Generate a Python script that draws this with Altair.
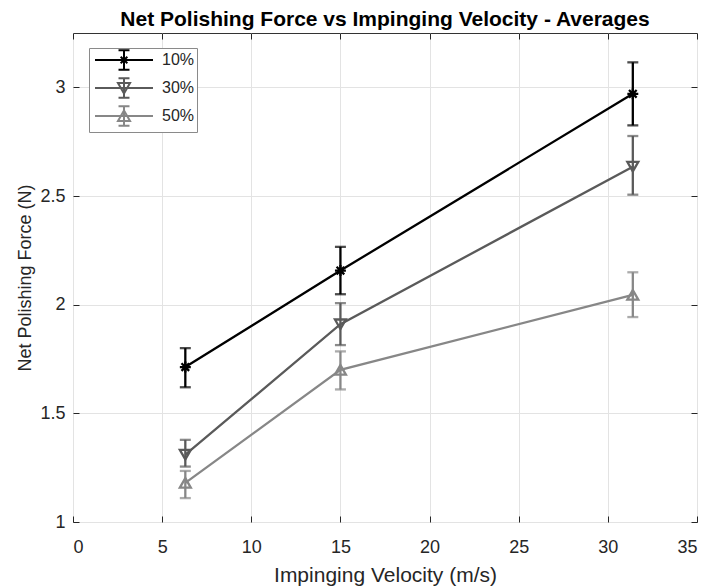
import altair as alt
import pandas as pd

series = ["10%", "30%", "50%"]
velocity = [6.3, 15.0, 31.4]

force_10 = [1.713, 2.157, 2.970]
low_10 = [1.620, 2.048, 2.825]
high_10 = [1.800, 2.266, 3.115]

force_30 = [1.310, 1.910, 2.635]
low_30 = [1.255, 1.814, 2.506]
high_30 = [1.378, 2.007, 2.776]

force_50 = [1.180, 1.700, 2.045]
low_50 = [1.110, 1.610, 1.943]
high_50 = [1.235, 1.785, 2.149]

x_ticks = [0, 5, 10, 15, 20, 25, 30, 35]
y_ticks = [1, 1.5, 2, 2.5, 3]

colors = ["#000000", "#5a5a5a", "#878787"]

# plot markers
marker_paths = [
    "M-1,0L1,0M0,-1L0,1M-0.7,-0.7L0.7,0.7M-0.7,0.7L0.7,-0.7",
    "triangle-down",
    "triangle-up",
]
# legend symbols: line + error bar + marker
_line = "M-3.22,0L3.22,0"
_err = "M-0.61,-1.08L0.61,-1.08M0,-1.08L0,1.08M-0.61,1.08L0.61,1.08"
legend_paths = [
    _line + _err + "M-0.5,0L0.5,0M0,-0.5L0,0.5M-0.37,-0.37L0.37,0.37M-0.37,0.37L0.37,-0.37",
    _line + _err + "M-0.67,-0.55L0.67,-0.55L0,0.61Z",
    _line + _err + "M-0.67,0.55L0.67,0.55L0,-0.61Z",
]

rows = []
for s, fs, ls, hs in zip(series, [force_10, force_30, force_50],
                         [low_10, low_30, low_50], [high_10, high_30, high_50]):
    for v, f, lo, hi in zip(velocity, fs, ls, hs):
        rows.append({"series": s, "v": v, "f": f, "lo": lo, "hi": hi})
df = pd.DataFrame(rows)
caps = df.melt(id_vars=["series", "v"], value_vars=["lo", "hi"],
               var_name="end", value_name="cap")

FONT = "Liberation Sans"
TXT = "#262626"

xs = alt.Scale(domain=[0, 35], nice=False, zero=False)
ys = alt.Scale(domain=[1, 3.25], nice=False, zero=False)
cscale = alt.Scale(domain=series, range=colors)

# main axes: grid, labels, titles
x_main = alt.Axis(values=x_ticks, grid=True, ticks=False, tickSize=0, domain=False,
                  labelFontSize=18, labelColor=TXT, labelFont=FONT, labelPadding=16,
                  title="Impinging Velocity (m/s)", titleFontSize=21, titleFont=FONT,
                  titleColor=TXT, titleFontWeight="normal", titlePadding=8,
                  gridColor="#e3e3e3", gridWidth=1, orient="bottom")
y_main = alt.Axis(values=y_ticks, format="~g", grid=True, ticks=False, tickSize=0,
                  domain=False,
                  labelFontSize=18, labelColor=TXT, labelFont=FONT, labelPadding=8,
                  title="Net Polishing Force (N)", titleFontSize=18, titleFont=FONT,
                  titleColor=TXT, titleFontWeight="normal", titlePadding=5,
                  gridColor="#e3e3e3", gridWidth=1, orient="left")


def tick_axis(vals, orient):
    return alt.Axis(values=vals, grid=False, ticks=True, tickSize=6, tickColor=TXT,
                    tickWidth=1, labels=False, domain=False, title=None,
                    orient=orient, offset=-6)


lines = alt.Chart(df).mark_line(strokeWidth=2.3).encode(
    x=alt.X("v:Q", scale=xs, axis=x_main),
    y=alt.Y("f:Q", scale=ys, axis=y_main),
    color=alt.Color("series:N", scale=cscale, legend=None),
    detail="series:N",
)

rules = alt.Chart(df).mark_rule(strokeWidth=2.3).encode(
    x=alt.X("v:Q", scale=xs, axis=tick_axis(x_ticks, "bottom")),
    y=alt.Y("lo:Q", scale=ys, axis=tick_axis(y_ticks, "left")),
    y2="hi:Q",
    color=alt.Color("series:N", scale=cscale, legend=None),
)

cap_marks = alt.Chart(caps).mark_tick(orient="horizontal", thickness=2.3, size=11).encode(
    x=alt.X("v:Q", scale=xs, axis=tick_axis(x_ticks, "top")),
    y=alt.Y("cap:Q", scale=ys, axis=tick_axis(y_ticks, "right")),
    color=alt.Color("series:N", scale=cscale, legend=None),
)

points = alt.Chart(df).mark_point(filled=False, strokeWidth=2.3, size=120, opacity=1).encode(
    x=alt.X("v:Q", scale=xs, axis=None),
    y=alt.Y("f:Q", scale=ys, axis=None),
    color=alt.Color("series:N", scale=cscale, legend=None),
    shape=alt.Shape("series:N", scale=alt.Scale(domain=series, range=marker_paths), legend=None),
)

legend_label_expr = "datum.label + '\u00a0\u00a0'"

legend_layer = alt.Chart(df).mark_point(filled=False, strokeWidth=2, opacity=0).encode(
    x=alt.X("v:Q", scale=xs, axis=None),
    y=alt.Y("f:Q", scale=ys, axis=None),
    color=alt.Color("series:N", scale=alt.Scale(domain=series, range=colors),
                    legend=alt.Legend(title=None, labelExpr=legend_label_expr)),
    shape=alt.Shape("series:N", scale=alt.Scale(domain=series, range=legend_paths),
                    legend=alt.Legend(title=None, labelExpr=legend_label_expr)),
)

chart = alt.layer(lines, rules, cap_marks, points, legend_layer).resolve_scale(
    color="independent", shape="independent"
).resolve_axis(
    x="independent", y="independent"
).properties(
    width=624, height=489,
    autosize=alt.AutoSizeParams(type="none"),
    padding={"left": 65, "top": 25, "right": 7, "bottom": 66},
    title=alt.Title("Net Polishing Force vs Impinging Velocity - Averages",
                    fontSize=21, font=FONT, fontWeight="bold", color="#000000",
                    anchor="middle", frame="group", offset=3),
).configure_view(
    stroke="#333333", strokeWidth=1
).configure_legend(
    orient="none", legendX=16, legendY=15,
    symbolSize=324, symbolStrokeWidth=2, symbolOpacity=1,
    symbolOffset=23, labelOffset=28, rowPadding=0,
    labelFontSize=16, labelFont=FONT, labelColor=TXT,
    padding=2, strokeColor="#8a8a8a", strokeWidth=1, fillColor="#ffffff",
)

chart.save("out.html", embed_options={"renderer": "svg", "actions": False})
